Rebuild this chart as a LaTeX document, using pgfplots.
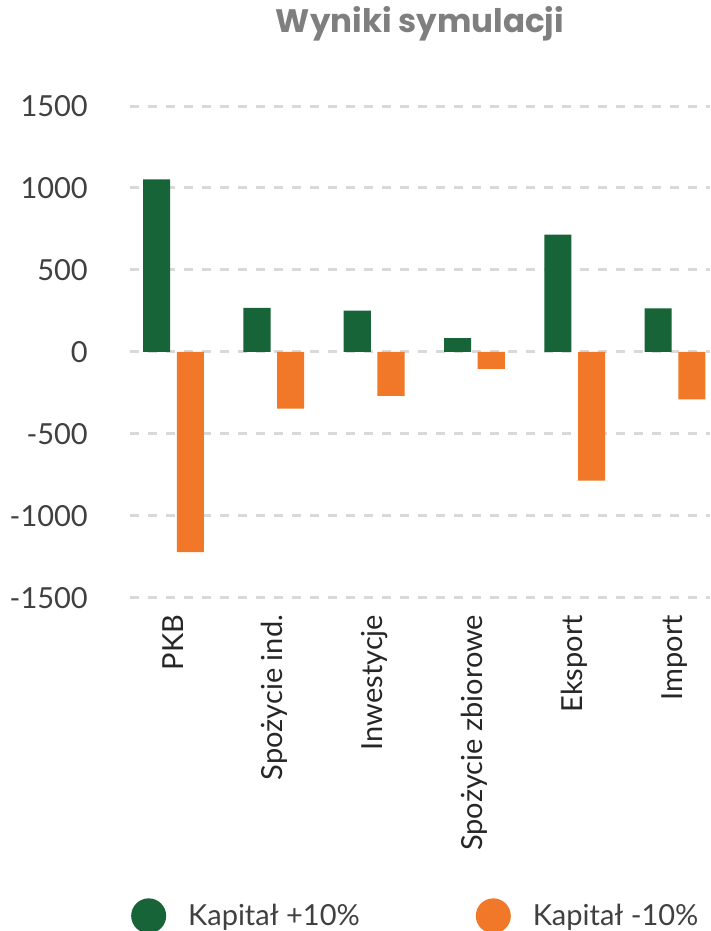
\documentclass[border=0pt]{standalone}
\usepackage{fontspec}
\setmainfont{Lato}
\newfontfamily\titlefont{Poppins}
\usepackage{pgfplots}
\pgfplotsset{compat=1.18}
\definecolor{cgreen}{HTML}{166437}
\definecolor{corange}{HTML}{F07828}
\definecolor{cgrid}{HTML}{D9D9D9}
\definecolor{ctext}{HTML}{404040}
\definecolor{ctextb}{HTML}{262626}
\definecolor{ctitle}{HTML}{7F7F7F}
\begin{document}
\begin{tikzpicture}
\useasboundingbox (0,0) rectangle (710pt,-931pt);
\begin{axis}[
  at={(130pt,-597.7pt)}, anchor=south west,
  scale only axis, width=580pt, height=491.7pt,
  xmin=-0.434, xmax=5.349, ymin=-1500, ymax=1500,
  axis line style={draw=none},
  tick style={draw=none}, major tick length=0pt,
  ytick={-1500,-1000,-500,0,500,1000,1500},
  yticklabels={-1500,-1000,-500,0,500,1000,1500},
  xtick={0,1,2,3,4,5},
  xticklabels={PKB,Spożycie ind.,Inwestycje,Spożycie zbiorowe,Eksport,Import},
  ymajorgrids,
  major grid style={cgrid, line width=3pt, dash pattern=on 9pt off 9pt},
  yticklabel style={font=\fontsize{29}{34}\selectfont, text=ctext, inner sep=0pt, anchor=east},
  yticklabel shift=42pt,
  xticklabel style={font=\fontsize{29}{34}\selectfont, text=ctextb, inner sep=0pt, rotate=90, anchor=east},
  xticklabel shift=17pt,
  title={Wyniki symulacji},
  title style={at={(0.5,1.138)}, anchor=base, font=\titlefont\bfseries\fontsize{32.5}{38}\selectfont, text=ctitle},
  legend columns=2,
  legend cell align=left,
  legend style={at={(0.0017,-0.647)}, anchor=west, draw=none, fill=none, inner sep=0pt,
    font=\fontsize{29}{34}\selectfont, text=ctext,
    nodes={inner sep=0pt},
    /tikz/every odd column/.append style={column sep=22pt},
    /tikz/every even column/.append style={column sep=116pt}},
]
\addplot[ybar, bar width=0.27, bar shift=-0.168, fill=cgreen, draw=none,
  legend image code/.code={\fill[cgreen] (17.5pt,0pt) circle (17.5pt);}]
  coordinates {(0,1053) (1,269) (2,251) (3,84) (4,716) (5,265)};
\addlegendentry{Kapitał +10\%}
\addplot[ybar, bar width=0.27, bar shift=0.168, fill=corange, draw=none,
  legend image code/.code={\fill[corange] (17.5pt,0pt) circle (17.5pt);}]
  coordinates {(0,-1222) (1,-347) (2,-269) (3,-104) (4,-786) (5,-290)};
\addlegendentry{Kapitał -10\%}
\end{axis}
\end{tikzpicture}
\end{document}
